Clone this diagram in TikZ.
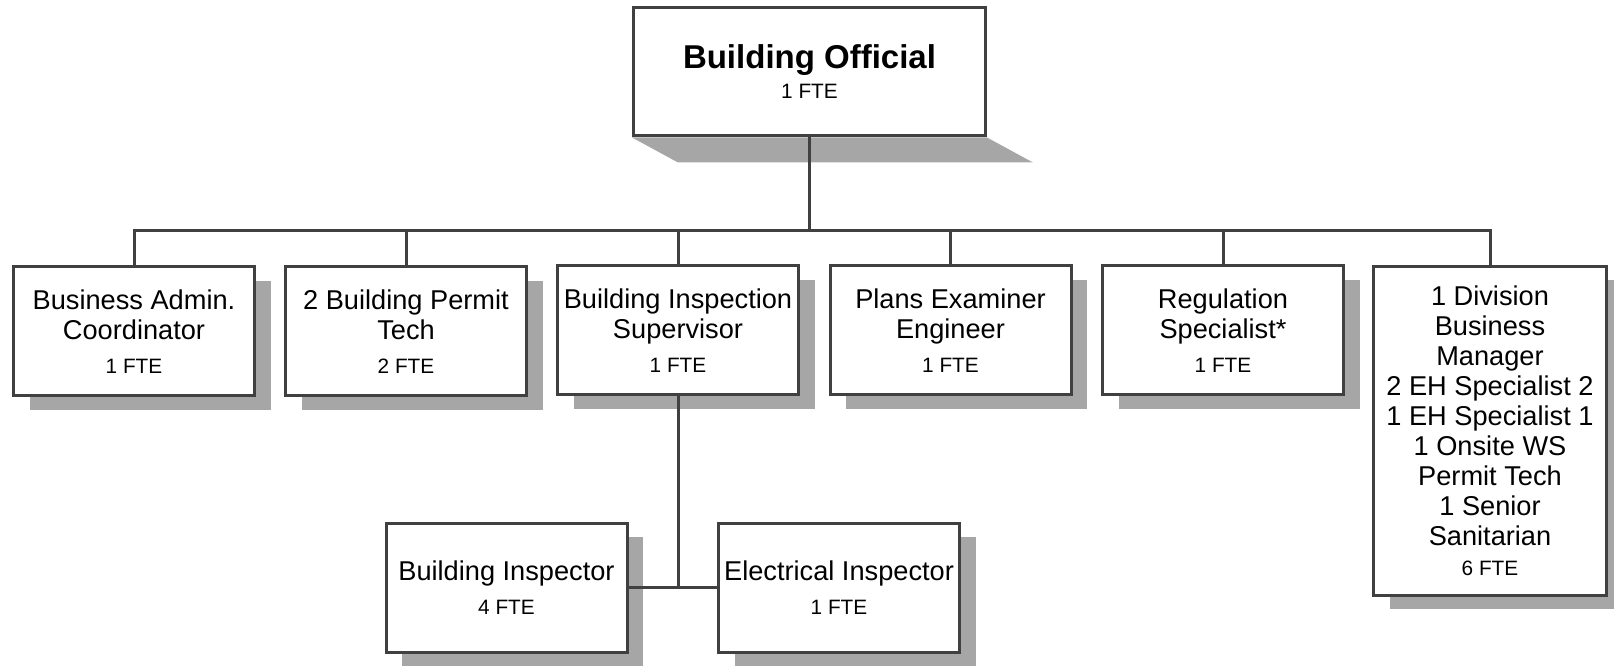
\documentclass[tikz,border=0pt]{standalone}
\usepackage{fontspec}
\setmainfont{Liberation Sans}
\usetikzlibrary{shadows}
\definecolor{boxline}{HTML}{404040}
\definecolor{shadowgray}{HTML}{A6A6A6}
\newcommand{\fte}{\fontsize{10.4}{12}\selectfont\mdseries}

\begin{document}
\begin{tikzpicture}[x=0.5pt, y=-0.5pt,
	box/.style={draw=boxline, line width=1.5pt, fill=white, inner sep=1pt, align=center},
	post/.style={box, minimum width=120.5pt, minimum height=64.5pt, font=\fontsize{13.6}{15}\selectfont,
		drop shadow={shadow xshift=8pt, shadow yshift=-7pt, fill=shadowgray, opacity=1}},
	link/.style={draw=boxline, line width=1.5pt}]
	\useasboundingbox (0,0) rectangle (1614,667);

	\draw (809.5,72) node[box, minimum width=176pt, minimum height=64pt, font=\fontsize{16.5}{15}\selectfont\bfseries] (head) {Building Official\\{\fte 1 FTE}};
	\fill[shadowgray] (head.south west) -- (head.south east) -- ++(23pt,-12.5pt) -- ([shift={(23pt,-12.5pt)}]head.south west) -- cycle;

	\draw (134,331.5) node[post] (admin) {Business Admin.\\Coordinator\\[2pt]{\fte 1 FTE}};
	\draw (406,331.5) node[post] (permit) {2 Building Permit\\Tech\\[2pt]{\fte 2 FTE}};
	\draw (678,330.5) node[post] (super) {Building Inspection\\Supervisor\\[2pt]{\fte 1 FTE}};
	\draw (950.5,330.5) node[post] (plans) {Plans Examiner\\Engineer\\[2pt]{\fte 1 FTE}};
	\draw (1223,330.5) node[post] (reg) {Regulation\\Specialist*\\[2pt]{\fte 1 FTE}};
	\draw (1490,431) node[post, minimum width=116.5pt, minimum height=164.5pt] (div) {1 Division\\Business\\Manager\\2 EH Specialist 2\\1 EH Specialist 1\\1 Onsite WS\\Permit Tech\\1 Senior\\Sanitarian\\{\fte 6 FTE}};

	\draw (506.5,588) node[post] (insp) {Building Inspector\\[2pt]{\fte 4 FTE}};
	\draw (839,588) node[post] (elec) {Electrical Inspector\\[2pt]{\fte 1 FTE}};

	\coordinate (bus) at (809.5,231);
	\coordinate (split) at (678,588);
	\draw[link] (head) -- (bus);
	\foreach \n in {admin,permit,super,plans,reg,div}
		\draw[link] (bus) -| (\n.north);
	\draw[link] (super) -- (split);
	\draw[link] (insp.east) -- (elec.west);
\end{tikzpicture}
\end{document}
